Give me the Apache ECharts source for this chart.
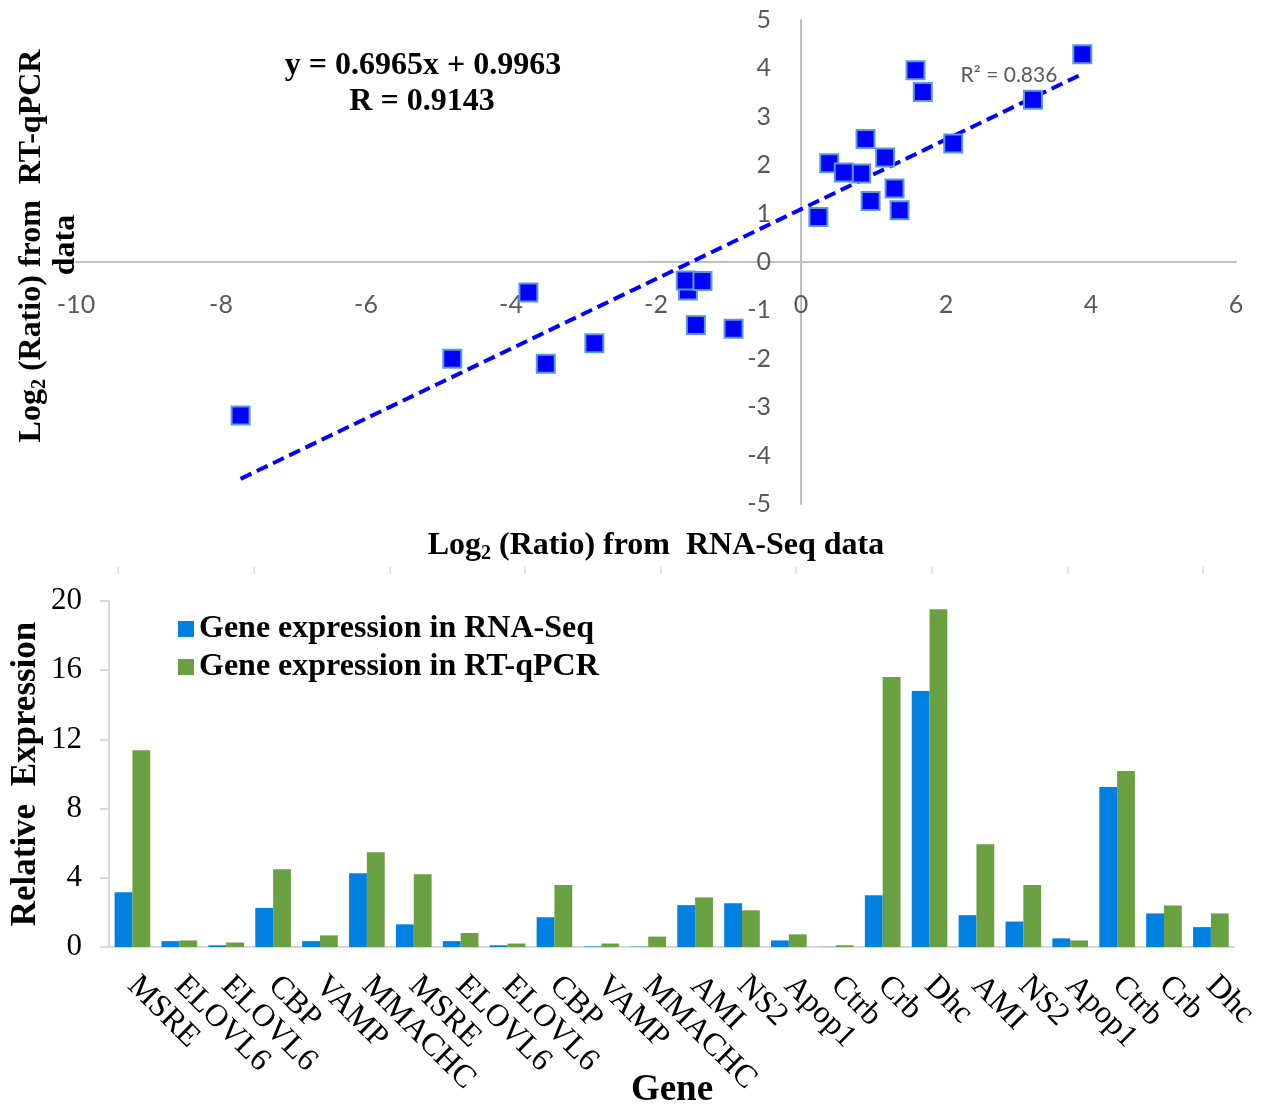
<!DOCTYPE html>
<html>
<head>
<meta charset="utf-8">
<script src="https://cdn.jsdelivr.net/npm/echarts@6/dist/echarts.min.js"></script>
<style>
  html, body { margin: 0; padding: 0; background: #fff; }
  #chart { width: 1262px; height: 1106px; }
</style>
</head>
<body>
<div id="chart"></div>
<script>
// gene order for the bar chart (x axis)
const genes = ['MSRE', 'ELOVL6', 'ELOVL6', 'CBP', 'VAMP', 'MMACHC', 'MSRE', 'ELOVL6', 'ELOVL6', 'CBP', 'VAMP', 'MMACHC',
  'AMI', 'NS2', 'Apop1', 'Ctrb', 'Crb', 'Dhc', 'AMI', 'NS2', 'Apop1', 'Ctrb', 'Crb', 'Dhc'];

// relative expression
const rnaSeqExpr = [3.17, 0.34, 0.1, 2.26, 0.34, 4.26, 1.31, 0.34, 0.1, 1.72, 0.03, 0.02,
  2.42, 2.53, 0.38, 0.01, 2.99, 14.8, 1.84, 1.47, 0.5, 9.25, 1.94, 1.15];
const qpcrExpr = [11.37, 0.38, 0.26, 4.5, 0.67, 5.47, 4.2, 0.81, 0.2, 3.58, 0.2, 0.6,
  2.87, 2.12, 0.73, 0.1, 15.6, 19.53, 5.94, 3.58, 0.38, 10.18, 2.4, 1.94];

// log2 ratios (scatter), same gene order
const rnaSeqLog2 = [1.68, -1.45, -2.85, 1.16, -1.56, 2.10, 0.39, -1.59, -3.52, 0.83, -4.81, -3.76,
  1.29, 1.36, -1.36, -7.73, 1.58, 3.88, 0.89, 0.59, -0.93, 3.20, 0.96, 0.24];
const qpcrLog2 = [3.51, -1.30, -1.68, 2.16, -0.59, 2.45, 2.04, -0.38, -2.10, 1.83, -2.00, -0.63,
  1.52, 1.07, -0.39, -3.17, 3.96, 4.29, 2.54, 1.85, -1.38, 3.35, 1.26, 0.93];

// linear trendline as drawn (end points)
const trendX = [-7.73, 3.90];
const trendY = [-4.48, 3.90];

const scatterXTicks = { min: -10, max: 6, step: 2 };
const scatterYTicks = { min: -5, max: 5, step: 1 };
const barYTicks = { min: 0, max: 20, step: 4 };
const stripTicks = [0, 8];

const serif = '"Liberation Serif", "Times New Roman", serif';
const sans = 'Lato, "Open Sans", sans-serif';

const chart = echarts.init(document.getElementById('chart'));

const scatterData = rnaSeqLog2.map((x, i) => [x, qpcrLog2[i]]);
const trendData = trendX.map((x, i) => [x, trendY[i]]);

const richLog = (size) => ({
  a: { fontFamily: serif, fontWeight: 'bold', fontSize: size, lineHeight: size + 2, color: '#000' },
  b: { fontFamily: serif, fontWeight: 'bold', fontSize: Math.round(size * 0.62), lineHeight: 20, padding: [15, 0, 0, 0], color: '#000' }
});

// scatter grid: axes cross at (0, 0), so shift them in from the grid edges
const sGrid = { left: 76, top: 20, width: 1160, height: 484 };
const xZeroOffset = -sGrid.height * (scatterYTicks.min / (scatterYTicks.min - scatterYTicks.max));
const yZeroOffset = -sGrid.width * (scatterXTicks.min / (scatterXTicks.min - scatterXTicks.max));

const option = {
  backgroundColor: '#fff',
  animation: false,
  grid: [
    sGrid,
    { left: 118, top: 566, width: 1085, height: 1 },
    { left: 109, top: 601, width: 1126, height: 346 }
  ],
  xAxis: [
    {
      gridIndex: 0,
      type: 'value',
      position: 'bottom',
      offset: xZeroOffset,
      min: scatterXTicks.min,
      max: scatterXTicks.max,
      interval: scatterXTicks.step,
      axisLine: { onZero: false, lineStyle: { color: '#bfbfbf', width: 2 } },
      axisTick: { show: false },
      splitLine: { show: false },
      axisLabel: { color: '#595959', fontFamily: sans, fontSize: 25, margin: 30 }
    },
    {
      gridIndex: 1,
      type: 'value',
      min: stripTicks[0],
      max: stripTicks[1],
      interval: 1,
      axisLine: { show: false },
      axisTick: { show: true, length: 7, lineStyle: { color: '#d9d9d9', width: 1.5 } },
      axisLabel: { show: false },
      splitLine: { show: false }
    },
    {
      gridIndex: 2,
      type: 'category',
      data: genes,
      axisLine: { lineStyle: { color: '#d9d9d9', width: 2 } },
      axisTick: { show: false },
      axisLabel: {
        interval: 0,
        rotate: -45,
        align: 'left',
        verticalAlign: 'middle',
        margin: 34,
        color: '#000',
        fontFamily: serif,
        fontSize: 32
      }
    }
  ],
  yAxis: [
    {
      gridIndex: 0,
      type: 'value',
      position: 'left',
      offset: yZeroOffset,
      min: scatterYTicks.min,
      max: scatterYTicks.max,
      interval: scatterYTicks.step,
      axisLine: { show: true, onZero: false, lineStyle: { color: '#bfbfbf', width: 2 } },
      axisTick: { show: false },
      splitLine: { show: false },
      axisLabel: { color: '#595959', fontFamily: sans, fontSize: 25, margin: 30 }
    },
    {
      gridIndex: 1,
      show: false,
      type: 'value'
    },
    {
      gridIndex: 2,
      type: 'value',
      min: barYTicks.min,
      max: barYTicks.max,
      interval: barYTicks.step,
      axisLine: { show: true, lineStyle: { color: '#d9d9d9', width: 2 } },
      axisTick: { show: true, length: 9, lineStyle: { color: '#d9d9d9', width: 2 } },
      splitLine: { show: false },
      axisLabel: { color: '#000', fontFamily: serif, fontSize: 31, margin: 27 }
    }
  ],
  legend: {
    data: ['Gene expression in RNA-Seq', 'Gene expression in RT-qPCR'],
    orient: 'vertical',
    left: 173,
    top: 608,
    itemWidth: 16,
    itemHeight: 16,
    itemGap: 6,
    icon: 'rect',
    textStyle: { fontFamily: serif, fontWeight: 'bold', fontSize: 32, lineHeight: 31, color: '#000' }
  },
  series: [
    {
      name: 'trend',
      type: 'line',
      xAxisIndex: 0,
      yAxisIndex: 0,
      data: trendData,
      symbol: 'none',
      silent: true,
      z: 2,
      lineStyle: { color: '#0000ff', width: 4, type: [12, 6] }
    },
    {
      name: 'log2',
      type: 'scatter',
      xAxisIndex: 0,
      yAxisIndex: 0,
      data: scatterData,
      symbol: 'rect',
      symbolSize: 18,
      z: 3,
      itemStyle: { color: '#0000ff', borderColor: '#5b9bd5', borderWidth: 2, opacity: 1 }
    },
    {
      name: 'Gene expression in RNA-Seq',
      type: 'bar',
      xAxisIndex: 2,
      yAxisIndex: 2,
      data: rnaSeqExpr,
      barGap: '0%',
      barCategoryGap: '24%',
      itemStyle: { color: '#0080e0' }
    },
    {
      name: 'Gene expression in RT-qPCR',
      type: 'bar',
      xAxisIndex: 2,
      yAxisIndex: 2,
      data: qpcrExpr,
      barGap: '0%',
      barCategoryGap: '24%',
      itemStyle: { color: '#69a042' }
    }
  ],
  graphic: [
    {
      type: 'text', x: 423, y: 66, z: 10,
      style: { text: 'y = 0.6965x + 0.9963', fontFamily: serif, fontWeight: 'bold', fontSize: 32, fill: '#000', align: 'center', verticalAlign: 'middle' }
    },
    {
      type: 'text', x: 422, y: 102, z: 10,
      style: { text: 'R = 0.9143', fontFamily: serif, fontWeight: 'bold', fontSize: 32, fill: '#000', align: 'center', verticalAlign: 'middle' }
    },
    {
      type: 'text', x: 1009, y: 75, z: 10,
      style: { text: 'R² = 0.836', fontFamily: sans, fontSize: 21, fill: '#595959', align: 'center', verticalAlign: 'middle' }
    },
    {
      type: 'text', x: 32, y: 246, rotation: Math.PI / 2, z: 10,
      style: { text: '{a|Log}{b|2}{a| (Ratio) from  RT-qPCR}', rich: richLog(32), align: 'center', verticalAlign: 'middle' }
    },
    {
      type: 'text', x: 66, y: 245, rotation: Math.PI / 2, z: 10,
      style: { text: 'data', fontFamily: serif, fontWeight: 'bold', fontSize: 32, fill: '#000', align: 'center', verticalAlign: 'middle' }
    },
    {
      type: 'text', x: 656, y: 546, z: 10,
      style: { text: '{a|Log}{b|2}{a| (Ratio) from  RNA-Seq data}', rich: richLog(32), align: 'center', verticalAlign: 'middle' }
    },
    {
      type: 'text', x: 26, y: 774, rotation: Math.PI / 2, z: 10,
      style: { text: 'Relative  Expression', fontFamily: serif, fontWeight: 'bold', fontSize: 35, fill: '#000', align: 'center', verticalAlign: 'middle' }
    },
    {
      type: 'text', x: 672, y: 1090, z: 10,
      style: { text: 'Gene', fontFamily: serif, fontWeight: 'bold', fontSize: 37, fill: '#000', align: 'center', verticalAlign: 'middle' }
    }
  ]
};

chart.setOption(option);
</script>
</body>
</html>
